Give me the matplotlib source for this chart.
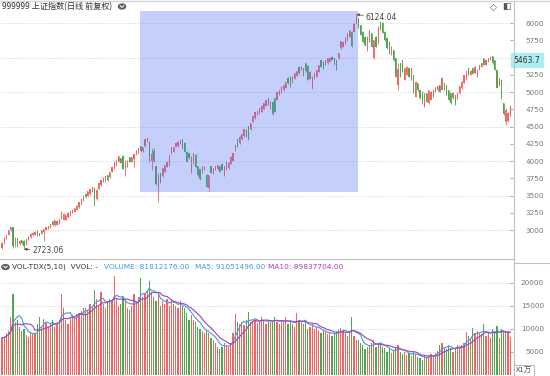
import matplotlib.pyplot as plt
import numpy as np
import pandas as pd
from matplotlib.patches import Rectangle, Circle
from matplotlib.lines import Line2D

# daily candles, 999999 上证指数
opens = [2740, 2810, 2880, 2935, 2995, 3040, 2780, 2880, 2800, 2850,
         2845, 2790, 2860, 2895, 2925, 2935, 2990, 2955, 2950, 2975,
         3000, 3020, 3040, 3130, 3075, 3080, 3090, 3160, 3150, 3150,
         3190, 3215, 3245, 3266, 3295, 3328, 3377, 3425, 3521, 3497,
         3520, 3555, 3610, 3450, 3600, 3650, 3700, 3710, 3792, 3763,
         3845, 3900, 3942, 3985, 4040, 4077, 3900, 3920, 4053, 3990,
         4030, 4100, 4111, 4218, 4140, 4218, 4290, 4280, 4000, 4150,
         3928, 3620, 3821, 3783, 3846, 3918, 3930, 4111, 4135, 4208,
         4218, 4247, 4314, 4266, 4135, 4111, 3840, 3966, 4087, 3928,
         3879, 3831, 3870, 3797, 3615, 3928, 3821, 3879, 3879, 3928,
         3957, 3800, 3870, 3894, 3957, 4005, 4160, 4314, 4256, 4314,
         4362, 4450, 4507, 4459, 4571, 4619, 4667, 4691, 4716, 4760,
         4800, 4908, 4764, 4860, 4908, 4884, 4957, 4995, 5029, 5063,
         5208, 5222, 5140, 5189, 5237, 5367, 5319, 5237, 5416, 5382,
         5189, 5060, 5189, 5222, 5295, 5464, 5440, 5391, 5416, 5440,
         5512, 5488, 5464, 5488, 5633, 5657, 5700, 5750, 5802, 5875,
         5870, 6000, 6067, 5971, 5874, 5802, 5608, 5729, 5850, 5500,
         5802, 5705, 6019, 6000, 5874, 5777, 5729, 5536, 5608, 5488,
         5100, 5415, 5464, 5174, 5246, 5343, 5174, 5246, 4932, 5126,
         5029, 5005, 4800, 4980, 4836, 4884, 4932, 5005, 5029, 5100,
         5030, 5126, 5102, 5029, 4980, 4908, 4957, 4900, 4980, 5053,
         5135, 5184, 5343, 5246, 5343, 5280, 5222, 5319, 5367, 5488,
         5391, 5440, 5470, 5521, 5464, 5319, 5100, 5174, 4836, 4560,
         4580, 4660]
highs = [2830, 2895, 2935, 3005, 3049, 3045, 2895, 2890, 2855, 2860,
         2855, 2875, 2910, 2955, 2965, 2980, 2995, 2960, 3005, 3020,
         3050, 3065, 3090, 3135, 3145, 3140, 3165, 3270, 3240, 3220,
         3255, 3275, 3295, 3320, 3357, 3405, 3455, 3502, 3530, 3565,
         3595, 3625, 3620, 3590, 3690, 3725, 3765, 3782, 3800, 3840,
         3915, 3985, 4010, 4072, 4050, 4090, 4010, 4010, 4060, 4065,
         4105, 4155, 4190, 4225, 4205, 4318, 4336, 4290, 4184, 4184,
         3935, 3820, 3830, 3900, 3948, 3995, 4087, 4205, 4205, 4270,
         4285, 4311, 4320, 4275, 4140, 4115, 4068, 4115, 4095, 3935,
         3885, 3935, 3925, 3805, 3800, 3935, 3900, 3935, 3948, 3935,
         3965, 3935, 3995, 3982, 4068, 4115, 4237, 4320, 4358, 4396,
         4465, 4458, 4512, 4552, 4655, 4712, 4730, 4770, 4805, 4845,
         4890, 4915, 4866, 4868, 4915, 5000, 5035, 5085, 5108, 5145,
         5215, 5228, 5228, 5276, 5310, 5375, 5372, 5348, 5422, 5388,
         5300, 5228, 5276, 5325, 5396, 5470, 5446, 5470, 5494, 5504,
         5518, 5494, 5470, 5566, 5745, 5736, 5796, 5856, 5904, 5882,
         5996, 6124.04, 6075, 5978, 5880, 5808, 5808, 5904, 5856, 5759,
         5808, 5953, 6030, 6008, 5880, 5783, 5735, 5663, 5614, 5494,
         5415, 5422, 5470, 5350, 5373, 5350, 5350, 5252, 5156, 5132,
         5035, 5012, 4986, 4986, 5035, 5012, 5035, 5073, 5093, 5106,
         5212, 5132, 5108, 5035, 4986, 4996, 4963, 4996, 5093, 5156,
         5252, 5306, 5350, 5315, 5350, 5373, 5325, 5397, 5421, 5494,
         5470, 5494, 5522, 5527, 5470, 5325, 5204, 5180, 4842, 4764,
         4715, 4811]
lows = [2730, 2800, 2870, 2925, 2985, 2745, 2760, 2760, 2790, 2800,
        2723.06, 2780, 2850, 2890, 2915, 2930, 2915, 2910, 2940, 2840,
        2995, 3010, 3035, 3060, 3065, 3070, 3085, 3155, 3140, 3140,
        3180, 3210, 3240, 3260, 3290, 3320, 3370, 3420, 3465, 3490,
        3510, 3550, 3353, 3440, 3595, 3645, 3690, 3700, 3715, 3755,
        3840, 3890, 3935, 3980, 3965, 3880, 3787, 3910, 3980, 3985,
        3908, 4090, 4105, 4130, 4135, 4210, 4280, 3990, 3870, 3990,
        3660, 3404, 3680, 3775, 3840, 3910, 3925, 4105, 4130, 4200,
        4210, 4240, 4180, 4130, 3985, 4030, 3831, 3960, 3910, 3790,
        3730, 3825, 3865, 3620, 3563, 3825, 3815, 3870, 3870, 3840,
        3865, 3783, 3865, 3888, 3950, 4000, 4150, 4200, 4250, 4305,
        4355, 4345, 4304, 4450, 4565, 4610, 4660, 4685, 4710, 4752,
        4795, 4805, 4758, 4667, 4710, 4878, 4950, 4990, 5022, 5058,
        5120, 5068, 5135, 5182, 5230, 5265, 5312, 5230, 5295, 5168,
        5182, 5044, 5182, 5215, 5290, 5360, 5336, 5385, 5410, 5435,
        5458, 5395, 5312, 5482, 5626, 5650, 5694, 5744, 5796, 5657,
        5864, 5990, 5922, 5822, 5722, 5674, 5600, 5722, 5650, 5473,
        5650, 5698, 5902, 5852, 5746, 5626, 5552, 5530, 5456, 5215,
        5029, 5215, 5288, 5168, 5240, 5215, 5168, 4983, 4925, 5022,
        4900, 4829, 4778, 4853, 4830, 4878, 4926, 4998, 5022, 4994,
        5024, 5032, 4950, 4878, 4829, 4902, 4812, 4894, 4974, 5046,
        5128, 5178, 5240, 5240, 5255, 5274, 5215, 5312, 5360, 5385,
        5385, 5434, 5464, 5409, 5312, 5053, 5094, 4900, 4672, 4522,
        4570, 4654]
closes = [2815, 2890, 2930, 3000, 3040, 2771, 2885, 2800, 2845, 2810,
          2770, 2870, 2905, 2950, 2960, 2975, 2925, 2920, 3000, 3015,
          3045, 3060, 3085, 3070, 3140, 3135, 3160, 3266, 3232, 3215,
          3250, 3270, 3290, 3314, 3352, 3400, 3449, 3497, 3473, 3560,
          3590, 3618, 3430, 3580, 3680, 3720, 3760, 3777, 3724, 3836,
          3908, 3980, 4005, 4067, 3975, 3884, 4005, 4005, 3990, 4060,
          4101, 4150, 4184, 4140, 4198, 4314, 4335, 4053, 4109, 3999,
          3670, 3767, 3690, 3894, 3942, 3990, 4082, 4198, 4198, 4266,
          4280, 4305, 4184, 4135, 3990, 4039, 4063, 4111, 3918, 3797,
          3735, 3928, 3918, 3628, 3797, 3831, 3894, 3928, 3942, 3845,
          3870, 3928, 3990, 3976, 4063, 4111, 4232, 4208, 4353, 4391,
          4459, 4353, 4320, 4546, 4650, 4706, 4725, 4764, 4800, 4840,
          4884, 4812, 4860, 4680, 4716, 4995, 5029, 5078, 5102, 5140,
          5126, 5075, 5222, 5271, 5305, 5271, 5367, 5343, 5300, 5174,
          5295, 5222, 5271, 5319, 5391, 5367, 5343, 5464, 5488, 5498,
          5464, 5401, 5319, 5561, 5739, 5730, 5790, 5850, 5898, 5670,
          5990, 6092, 5930, 5830, 5729, 5681, 5802, 5898, 5657, 5753,
          5657, 5947, 5910, 5860, 5753, 5633, 5560, 5657, 5463, 5222,
          5330, 5222, 5295, 5343, 5367, 5222, 5343, 4990, 5150, 5029,
          4908, 4836, 4980, 4860, 5029, 5005, 5029, 5067, 5087, 5000,
          5200, 5039, 4957, 4884, 4836, 4990, 4836, 4990, 5087, 5150,
          5246, 5300, 5246, 5309, 5261, 5367, 5319, 5391, 5415, 5391,
          5464, 5488, 5510, 5415, 5319, 5060, 5198, 4908, 4680, 4740,
          4700, 4780]
# volume, unit: 万
volumes = [8000, 8200, 9000, 9600, 12500, 17700, 11500, 12000, 10500, 9500,
           10000, 8700, 8200, 9300, 8800, 9000, 11000, 12500, 10500, 12200,
           11300, 10400, 11000, 12000, 10500, 11000, 12000, 17700, 14500, 12000,
           11000, 12500, 13000, 12500, 13200, 13500, 13800, 14500, 14500, 14000,
           15500, 15000, 18400, 16500, 15000, 18000, 15500, 14500, 16000, 16500,
           16000, 21500, 16500, 15000, 15500, 17000, 16500, 14500, 14000, 15000,
           17500, 16000, 17000, 21000, 17000, 17500, 18500, 20500, 18000, 17000,
           16000, 17500, 15000, 16000, 15500, 16500, 15000, 16500, 15500, 15000,
           14500, 16000, 15000, 14500, 13500, 12000, 13000, 12000, 11500, 10500,
           10000, 9500, 9000, 9500, 9000, 8000, 7500, 7000, 6000, 5500,
           6000, 7000, 6500, 6000, 7000, 9000, 13200, 11500, 11000, 11500,
           10800, 12000, 13600, 11500, 11800, 12000, 11200, 11500, 12500, 12000,
           11000, 12000, 11500, 11800, 12650, 11500, 11000, 12000, 11500, 12500,
           11000, 11500, 11000, 10500, 13400, 12000, 11500, 11000, 11500, 10000,
           10500, 11000, 10000, 10500, 9500, 9000, 9500, 9200, 8800, 9300,
           8500, 8800, 9500, 9800, 10200, 9800, 9000, 8500, 9000, 12600,
           8500, 7500, 7500, 7000, 6500, 5500, 6000, 6500, 7000, 7500,
           6000, 7000, 7000, 6000, 5800, 5000, 5500, 4800, 5200, 6000,
           6500, 5000, 4500, 5000, 4200, 4700, 4000, 5000, 4500, 3800,
           3600, 3200, 4200, 3700, 4200, 4500, 4000, 4800, 5200, 6500,
           6800, 6000, 5500, 6500, 5800, 5000, 5500, 6500, 6000, 6500,
           7000, 9350, 8500, 8000, 10100, 9000, 9500, 9000, 8800, 11150,
           8500, 9000, 8000, 10000, 9500, 10600, 8000, 10000, 9500, 9000,
           9500, 8181]

# highlighted selection (candle index range, lower price)
sel_start, sel_end, sel_low = 62.7, 161.8, 3550
cursor_price = 5463.7

RED = '#f06464'
GREEN = '#4fa84f'


def fx(px):
    return px / 550


def fy(py):
    return 1 - py / 376


def main():
    o = np.array(opens, float)
    h = np.array(highs, float)
    l = np.array(lows, float)
    c = np.array(closes, float)
    v = np.array(volumes, float)
    x = np.arange(len(c))
    cols = np.where(c >= o, RED, GREEN)

    fig = plt.figure(figsize=(5.5, 3.76), dpi=100)
    ax = fig.add_axes([0, fy(258), fx(513), fy(11) - fy(258)])
    axv = fig.add_axes([0, fy(374.6), fx(513), fy(259) - fy(374.6)])

    # candles
    ax.vlines(x, l, h, colors=cols, lw=0.6, zorder=2)
    body = np.maximum(np.abs(c - o), 10)
    ax.bar(x, body, bottom=np.minimum(o, c), width=0.62, color=cols,
           linewidth=0, zorder=3)
    ax.set_xlim(-0.91, 232.27)
    ax.set_ylim(2595, 6174)
    ax.add_patch(Rectangle((sel_start, sel_low), sel_end - sel_start, 4000,
                           color='#4a6ef5', alpha=0.32, lw=0, zorder=5))

    ipk = int(np.argmax(h))
    ilo = int(np.argmin(l))
    arrow = dict(arrowstyle='-|>', color='#555555', lw=0.6,
                 mutation_scale=4, shrinkA=0, shrinkB=0)
    ax.annotate(f'{h[ipk]:.2f}', xy=(ipk, h[ipk]), xytext=(7, -2.5),
                textcoords='offset points', ha='left', va='center',
                fontsize=5.5, color='#444444', arrowprops=arrow, zorder=6)
    ax.annotate(f'{l[ilo]:.2f}', xy=(ilo, l[ilo]), xytext=(6, -1),
                textcoords='offset points', ha='left', va='center',
                fontsize=5.5, color='#444444', arrowprops=arrow, zorder=6)

    # volume
    axv.bar(x, v, width=0.62, color=cols, linewidth=0)
    s = pd.Series(v)
    axv.plot(x, s.rolling(5, min_periods=1).mean(), color='#3d9be2', lw=0.8)
    axv.plot(x, s.rolling(10, min_periods=1).mean(), color='#a241b4', lw=0.8)
    axv.set_xlim(-0.91, 232.27)
    axv.set_ylim(0, 25240)

    for a, major, minor in [(ax, np.arange(3000, 6001, 500), np.arange(3250, 6000, 500)),
                            (axv, np.arange(5000, 20001, 5000), [])]:
        a.set_facecolor('none')
        for sp in a.spines.values():
            sp.set_visible(False)
        a.set_xticks([])
        a.yaxis.tick_right()
        a.set_yticks(major)
        a.set_yticks(minor, minor=True)
        # the 5500 label sits under the cursor price tag
        a.set_yticklabels(['' if t == 5500 else f'{int(t)}' for t in major])
        a.set_yticklabels([f'{int(t)}' for t in minor], minor=True)
        a.tick_params(axis='y', which='both', direction='in', length=2,
                      width=0.6, color='#999999', labelsize=5.2,
                      labelcolor='#777777', pad=22.3)
        for t in a.get_yticklabels(which='both'):
            t.set_horizontalalignment('right')
        a.grid(axis='y', which='major', ls=(0, (1, 2)), color='#c4c4c4', lw=0.6)
        a.set_axisbelow(True)

    # frame lines
    grey = '#c0c0c0'
    fig.add_artist(Line2D([0, 1], [fy(0.5)] * 2, color='#d4d4d4', lw=1))
    fig.add_artist(Line2D([fx(513.5)] * 2, [0, fy(1)], color=grey, lw=0.8))
    fig.add_artist(Line2D([0, fx(513.5)], [fy(258.5)] * 2, color=grey, lw=0.8))
    fig.add_artist(Line2D([fx(513.5), 1], [fy(263)] * 2, color=grey, lw=0.8))

    cjk = ['Noto Sans CJK SC', 'DejaVu Sans']
    fig.text(fx(2), fy(6.5), '999999 上证指数(日线 前复权)', family=cjk,
             fontsize=5.9, color='#333333', va='center', ha='left')
    for cx, cy in [(122, 6.5), (5.5, 267)]:
        fig.add_artist(Circle((fx(cx), fy(cy)), 3.6 / 550, color='#606060',
                              transform=fig.transFigure))
        fig.add_artist(Line2D([fx(cx - 1.7), fx(cx), fx(cx + 1.7)],
                              [fy(cy - 0.8), fy(cy + 1.0), fy(cy - 0.8)],
                              color='white', lw=0.7))
    fig.text(fx(493.5), fy(7), '◇', fontsize=6.5, color='#555555',
             ha='center', va='center')
    fig.text(fx(506), fy(7), '◧', fontsize=6.5, color='#555555',
             ha='center', va='center')

    ty = fy(267)
    fig.text(fx(12), ty, 'VOL-TDX(5,10)  VVOL: -', fontsize=5.3,
             color='#333333', va='center')
    fig.text(fx(104), ty, 'VOLUME: 81812176.00', fontsize=5.3,
             color='#3d9be2', va='center')
    fig.text(fx(195), ty, 'MA5: 91051496.00', fontsize=5.3,
             color='#3d9be2', va='center')
    fig.text(fx(268), ty, 'MA10: 89837704.00', fontsize=5.3,
             color='#a241b4', va='center')

    # cursor price tag
    ax.text(1.0015, cursor_price, f'{cursor_price}', transform=ax.get_yaxis_transform(),
            ha='left', va='center', fontsize=5.5, color='#333333', clip_on=False,
            bbox=dict(boxstyle='square,pad=0.35', fc='#aeeef0', ec='#aeeef0'))
    fig.text(fx(516), fy(371), 'X1万', family=cjk, fontsize=5.5, color='#555555',
             va='center', ha='left',
             bbox=dict(boxstyle='square,pad=0.2', fc='white', ec='#b0b0b0', lw=0.6))

    plt.savefig('out.png', dpi=100)


if __name__ == "__main__":
    main()
